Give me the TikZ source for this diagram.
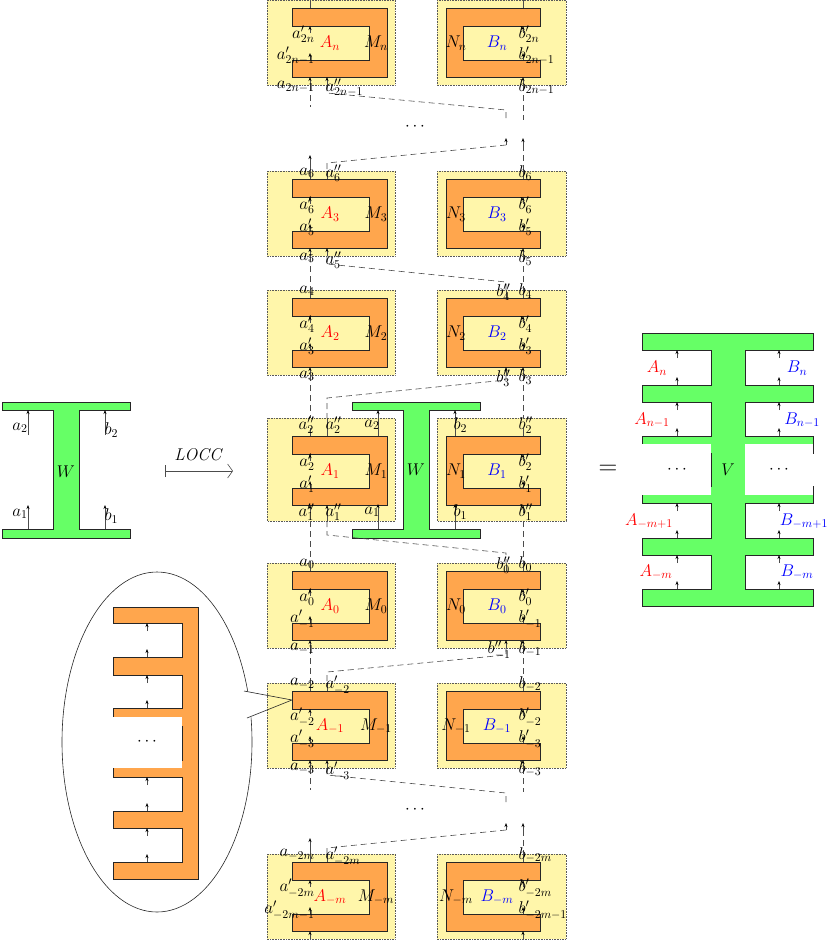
\RequirePackage{fix-cm}
\documentclass[tikz,border=0pt]{standalone}
\usetikzlibrary{arrows.meta}
\definecolor{ylw}{RGB}{255,246,170}
\definecolor{org}{RGB}{255,166,77}
\definecolor{grn}{RGB}{102,255,102}
\tikzset{
 ybox/.style={fill=ylw,draw=gray!70!black,densely dotted,line width=0.6pt},
 obox/.style={fill=org,draw=gray!30!black,line width=0.6pt},
 gbox/.style={fill=grn,draw=gray!30!black,line width=0.6pt},
 wire/.style={draw=gray!60!black,line width=0.6pt},
 arr/.style={wire,-{Stealth[length=4pt,width=3pt,black]}},
 dsh/.style={wire,dash pattern=on 6pt off 4pt},
 lab/.style={inner sep=0.3pt,font=\fontsize{17}{18}\selectfont},
 lbl/.style={lab,anchor=east},
 lbr/.style={lab,anchor=west},
}
\newcommand\Ybox[4]{\path[ybox] (#1,#2) rectangle (#3,#4);}
\newcommand\Lblk[4]{%
\begin{scope}[shift={(0,#1)}]
\filldraw[obox] (292,0)--(387,0)--(387,69)--(292,69)--(292,52)--(369,52)--(369,18)--(292,18)--cycle;
\draw[arr] (310,25)--(310,18);
\draw[arr] (310,52)--(310,45);
\draw[arr] (310,77)--(310,69);
\draw[wire] (310,0)--(310,-8);
\node[lab,text=red] at (330,35) {$A_{#2}$};
\node[lab] at (376,35) {$M_{#2}$};
\node[lbl] at (315,26) {$#3$};
\node[lbl] at (315,48) {$#4$};
\end{scope}}
\newcommand\Rblk[4]{%
\begin{scope}[shift={(0,#1)}]
\filldraw[obox] (540,0)--(446,0)--(446,69)--(540,69)--(540,52)--(463,52)--(463,18)--(540,18)--cycle;
\draw[arr] (523,25)--(523,18);
\draw[arr] (523,52)--(523,45);
\draw[arr] (523,77)--(523,69);
\draw[wire] (523,0)--(523,-8);
\node[lab,text=blue] at (497,35) {$B_{#2}$};
\node[lab] at (456,35) {$N_{#2}$};
\node[lbr] at (518,26) {$#3$};
\node[lbr] at (518,48) {$#4$};
\end{scope}}
\begin{document}
\begin{tikzpicture}[x=1pt,y=-1pt]
\useasboundingbox (0,0) rectangle (831,940);
% ---------- left W ----------
\filldraw[gbox] (2,402)--(130,402)--(130,410)--(79,410)--(79,529)--(130,529)--(130,538)--(2,538)--(2,529)--(53,529)--(53,410)--(2,410)--cycle;
\draw[arr] (28,435)--(28,410);
\draw[arr] (28,529)--(28,505);
\draw[arr] (105,435)--(105,410);
\draw[arr] (105,529)--(105,505);
\node[lbl] (la2) at (28,428) {$a_2$};
\node[lbr] (lb2) at (104,430) {$b_2$};
\node[lbl] (la1) at (28,514) {$a_1$};
\node[lbr] (lb1) at (104,516) {$b_1$};
\node[lab] (lW) at (66,472) {$W$};
\coordinate (L1) at (165,471); \coordinate (L2) at (233,471);
\draw[wire,{Bar[width=12pt]}-{Straight Barb[length=5pt,width=14pt]}] (L1)--(L2);
\node[lab] (locc) at (199,455) {$\mathit{LOCC}$};
% ---------- ellipse with comb ----------
\draw[line width=0.6pt,draw=gray!30!black] (157,742) ellipse [x radius=95,y radius=170];
\filldraw[obox] (113,607)--(198,607)--(198,879)--(113,879)--(113,862)--(182,862)--(182,828)--(113,828)--(113,811)--(182,811)--(182,777)--(113,777)--(113,760)--(182,760)--(182,726)--(113,726)--(113,708)--(182,708)--(182,675)--(113,675)--(113,657)--(182,657)--(182,623)--(113,623)--cycle;
\fill[white] (113,717) rectangle (182,768);
\node[lab] (cdl) at (147,742) {$\cdots$};
\foreach \t in {623,675,777,828}{\draw[arr] (147,\t+8)--(147,\t);}
\foreach \b in {657,708,811,862}{\draw[arr] (147,\b)--(147,\b-8);}
\fill[white] (244,691)--(262,694)--(262,716)--(247,718)--cycle;
% ---------- yellow boxes ----------
\Ybox{267}{0}{395}{85}\Ybox{437}{0}{566}{85}
\Ybox{267}{171}{395}{256}\Ybox{437}{171}{566}{256}
\Ybox{267}{290}{395}{375}\Ybox{437}{290}{566}{375}
\Ybox{267}{418}{395}{521}\Ybox{437}{418}{566}{521}
\Ybox{267}{563}{395}{648}\Ybox{437}{563}{566}{648}
\Ybox{267}{683}{395}{768}\Ybox{437}{683}{566}{768}
\Ybox{267}{854}{395}{939}\Ybox{437}{854}{566}{939}
\coordinate (cp) at (292,700);
\draw[line width=0.6pt,draw=gray!30!black] (244,691)--(cp)--(247,718);
% ---------- blocks ----------
\Lblk{8}{n}{a'_{2n}}{a'_{2n-1}}\Rblk{8}{n}{b'_{2n}}{b'_{2n-1}}
\Lblk{179}{3}{a'_6}{a'_5}\Rblk{179}{3}{b'_6}{b'_5}
\Lblk{298}{2}{a'_4}{a'_3}\Rblk{298}{2}{b'_4}{b'_3}
\Lblk{436}{1}{a'_2}{a'_1}\Rblk{436}{1}{b'_2}{b'_1}
\Lblk{571}{0}{a'_0}{a'_{-1}}\Rblk{571}{0}{b'_0}{b'_{-1}}
\Lblk{691}{-1}{a'_{-2}}{a'_{-3}}\Rblk{691}{-1}{b'_{-2}}{b'_{-3}}
\Lblk{862}{-m}{a'_{-2m}}{a'_{-2m-1}}\Rblk{862}{-m}{b'_{-2m}}{b'_{-2m-1}}
% ---------- middle W ----------
\filldraw[gbox] (352,402)--(480,402)--(480,410)--(429,410)--(429,529)--(480,529)--(480,538)--(352,538)--(352,529)--(403,529)--(403,410)--(352,410)--cycle;
\node[lab] (mW) at (416,470) {$W$};
\draw[arr] (378,436)--(378,410);
\draw[arr] (378,529)--(378,504);
\draw[arr] (455,436)--(455,410);
\draw[arr] (455,529)--(455,504);
% ---------- vertical dashed wires ----------
\draw[dsh] (310,85)--(310,107);
\draw[arr] (310,171)--(310,155);
\draw[dsh] (310,256)--(310,290);
\draw[dsh] (310,375)--(310,418);
\draw[dsh] (310,521)--(310,563);
\draw[dsh] (310,648)--(310,683);
\draw[dsh] (310,768)--(310,790);
\draw[arr] (310,854)--(310,838);
\draw[dsh] (523,85)--(523,120);
\draw[arr] (523,145)--(523,138);
\draw[dsh] (523,145)--(523,171);
\draw[dsh] (523,256)--(523,290);
\draw[dsh] (523,375)--(523,418);
\draw[dsh] (523,521)--(523,563);
\draw[dsh] (523,648)--(523,683);
\draw[dsh] (523,768)--(523,792);
\draw[arr] (523,830)--(523,823);
\draw[dsh] (523,830)--(523,854);
% ---------- diagonal dashed wires ----------
\draw[arr] (327,85)--(327,77);
\draw[dsh] (327,85)--(327,93)--(506,110)--(506,120);
\node[lab] (d1) at (415,127) {$\cdots$};
\draw[arr] (506,145)--(506,138);
\draw[dsh] (506,145)--(327,163)--(327,171);
\draw[wire] (327,171)--(327,179);
\draw[arr] (327,256)--(327,248);
\draw[dsh] (327,256)--(327,264)--(506,282)--(506,290);
\draw[wire] (506,290)--(506,298);
\draw[arr] (506,375)--(506,367);
\draw[dsh] (506,375)--(506,380)--(327,398)--(327,418);
\draw[wire] (327,418)--(327,436);
\draw[arr] (327,521)--(327,505);
\draw[dsh] (327,521)--(327,535)--(506,553)--(506,563);
\draw[wire] (506,563)--(506,571);
\draw[arr] (506,648)--(506,640);
\draw[dsh] (506,648)--(506,655)--(327,672)--(327,683);
\draw[wire] (327,683)--(327,691);
\draw[arr] (327,768)--(327,760);
\draw[dsh] (327,768)--(327,775)--(506,793)--(506,803);
\node[lab] (d2) at (415,810) {$\cdots$};
\draw[arr] (506,830)--(506,823);
\draw[dsh] (506,830)--(327,848)--(327,854);
\draw[wire] (327,854)--(327,862);
% ---------- outer labels ----------
\node[lbl] at (315,87) {$a_{2n-1}$};
\node[lbr] at (325,88) {$a''_{2n-1}$};
\node[lbr] at (518,87) {$b_{2n-1}$};
\node[lbl] at (315,173) {$a_6$};
\node[lbr] at (325,173) {$a''_6$};
\node[lbr] at (518,173) {$b_6$};
\node[lbl] at (315,258) {$a_5$};
\node[lbr] at (325,260) {$a''_5$};
\node[lbr] at (518,258) {$b_5$};
\node[lbl] at (315,291) {$a_4$};
\node[lbl] at (511,292) {$b''_4$};
\node[lbr] at (518,291) {$b_4$};
\node[lbl] at (315,376) {$a_3$};
\node[lbl] at (511,378) {$b''_3$};
\node[lbr] at (518,377) {$b_3$};
\node[lbl] at (315,425) {$a''_2$};
\node[lbr] at (325,425) {$a''_2$};
\node[lbl] at (380,425) {$a_2$};
\node[lbr] at (453,425) {$b_2$};
\node[lbr] at (518,425) {$b''_2$};
\node[lbl] at (315,512) {$a''_1$};
\node[lbr] at (325,512) {$a''_1$};
\node[lbl] at (380,512) {$a_1$};
\node[lbr] at (453,512) {$b_1$};
\node[lbr] at (518,512) {$b''_1$};
\node[lbl] at (315,564) {$a_0$};
\node[lbl] at (511,565) {$b''_0$};
\node[lbr] at (518,564) {$b_0$};
\node[lbl] at (315,649) {$a_{-1}$};
\node[lbl] at (511,650) {$b''_{-1}$};
\node[lbr] at (518,649) {$b_{-1}$};
\node[lbl] at (315,684) {$a_{-2}$};
\node[lbr] at (325,685) {$a'_{-2}$};
\node[lbr] at (518,684) {$b_{-2}$};
\node[lbl] at (315,769) {$a_{-3}$};
\node[lbr] at (325,771) {$a'_{-3}$};
\node[lbr] at (518,769) {$b_{-3}$};
\node[lbl] at (315,855) {$a_{-2m}$};
\node[lbr] at (325,856) {$a'_{-2m}$};
\node[lbr] at (518,855) {$b_{-2m}$};
% ---------- right V ----------
\node[lab,font=\fontsize{26}{26}\selectfont] (eq) at (608,470) {$=$};
\filldraw[gbox] (642,333)--(813,333)--(813,350)--(745,350)--(745,385)--(813,385)--(813,402)--(745,402)--(745,436)--(813,436)--(813,453)--(745,453)--(745,486)--(813,486)--(813,503)--(745,503)--(745,538)--(813,538)--(813,555)--(745,555)--(745,589)--(813,589)--(813,606)--(642,606)--(642,589)--(711,589)--(711,555)--(642,555)--(642,538)--(711,538)--(711,503)--(642,503)--(642,486)--(711,486)--(711,453)--(642,453)--(642,436)--(711,436)--(711,402)--(642,402)--(642,385)--(711,385)--(711,350)--(642,350)--cycle;
\fill[white] (642,444) rectangle (711,495);
\fill[white] (745,444) rectangle (813,495);
\foreach \t in {350,402,503,555}{\draw[arr] (677,\t+8)--(677,\t); \draw[arr] (779,\t+8)--(779,\t);}
\foreach \b in {385,436,538,589}{\draw[arr] (677,\b)--(677,\b-8); \draw[arr] (779,\b)--(779,\b-8);}
\node[lab] (V) at (728,470) {$V$};
\node[lab] at (677,470) {$\cdots$};
\node[lab] at (779,470) {$\cdots$};
\node[lab,text=red] at (657,368) {$A_n$};
\node[lab,text=red] at (652,420) {$A_{n-1}$};
\node[lab,text=red] at (649,521) {$A_{-m+1}$};
\node[lab,text=red] at (656,572) {$A_{-m}$};
\node[lab,text=blue] at (797,368) {$B_n$};
\node[lab,text=blue] at (802,420) {$B_{n-1}$};
\node[lab,text=blue] at (804,521) {$B_{-m+1}$};
\node[lab,text=blue] at (797,572) {$B_{-m}$};
\end{tikzpicture}
\end{document}
